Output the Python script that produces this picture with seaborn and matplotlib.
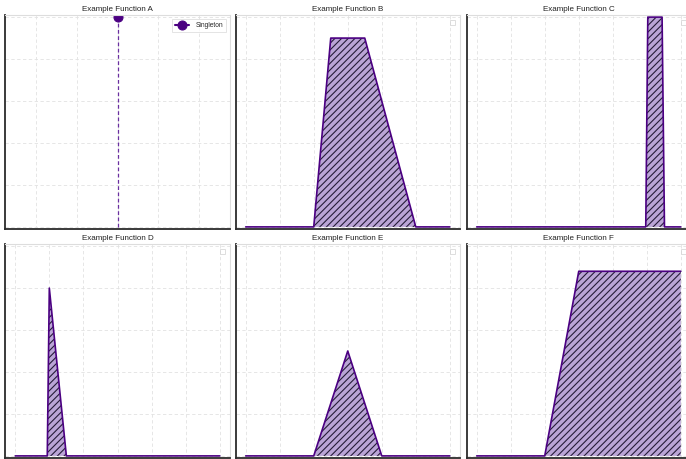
import matplotlib
matplotlib.use("Agg")
import matplotlib.pyplot as plt
import seaborn as sns
import pandas as pd

# Singleton (panel A)
singleton_x = 3.0
singleton_mu = 1.0

# Membership function breakpoints (x, membership)
func_b_x = [0.0, 2.0, 2.5, 3.5, 5.0, 6.0]
func_b_y = [0.0, 0.0, 0.9, 0.9, 0.0, 0.0]

func_c_x = [0.0, 4.97, 5.03, 5.45, 5.52, 6.0]
func_c_y = [0.0, 0.0, 1.0, 1.0, 0.0, 0.0]

func_d_x = [0.0, 0.94, 1.0, 1.5, 6.0]
func_d_y = [0.0, 0.0, 0.8, 0.0, 0.0]

func_e_x = [0.0, 2.0, 3.0, 4.0, 6.0]
func_e_y = [0.0, 0.0, 0.5, 0.0, 0.0]

func_f_x = [0.0, 2.0, 3.0, 6.0]
func_f_y = [0.0, 0.0, 0.88, 0.88]

titles = ["Example Function A", "Example Function B", "Example Function C",
          "Example Function D", "Example Function E", "Example Function F"]

x_ticks = [0, 1, 2, 3, 4, 5, 6]
singleton_ticks = [1, 2, 3, 4, 5]
y_ticks = [0.0, 0.2, 0.4, 0.6, 0.8, 1.0]

sns.set_theme(style="white")
plt.rcParams["font.family"] = ["Liberation Sans", "DejaVu Sans"]
plt.rcParams["hatch.color"] = "#1e1530"
plt.rcParams["hatch.linewidth"] = 0.8

LINE = "#4B0082"
FILL = "#b7a0d4"

W, H = 686, 459
fig = plt.figure(figsize=(W / 100, H / 100), dpi=100)

# panel boxes in pixels: left, top, width, height
boxes = [(5, 15, 225, 214), (235.5, 15, 224.5, 214), (466.5, 15, 224.5, 214),
         (5, 244, 225, 214), (235.5, 244, 224.5, 214), (466.5, 244, 224.5, 214)]
axes = []
for (l, t, w, h) in boxes:
    axes.append(fig.add_axes([l / W, 1 - (t + h) / H, w / W, h / H]))


def style(ax, title, xticks, xlim):
    ax.set_xlim(*xlim)
    ax.set_ylim(-0.01, 1.01)
    ax.set_xticks(xticks)
    ax.set_yticks(y_ticks)
    ax.set_xticklabels([])
    ax.set_yticklabels([])
    ax.tick_params(length=0)
    ax.grid(True, linestyle=(0, (4, 3)), color="#e2e2e2", linewidth=0.6)
    ax.set_axisbelow(True)
    for side in ("top", "right"):
        ax.spines[side].set_color("#dddddd")
        ax.spines[side].set_linewidth(0.8)
    for side in ("left", "bottom"):
        ax.spines[side].set_color("#2b2b2b")
        ax.spines[side].set_linewidth(1.3)
    ax.set_xlabel("")
    ax.set_ylabel("")
    ax.set_title(title, fontsize=5.8, color="#222222", pad=3)


# Panel A: singleton
axA = axes[0]
axA.plot([singleton_x, singleton_x], [0, singleton_mu], linestyle=(0, (3, 2)),
         color="#6a2fa0", linewidth=0.9)
sing_df = pd.DataFrame({"x": [singleton_x], "mu": [singleton_mu]})
sns.lineplot(data=sing_df, x="x", y="mu", ax=axA, color=LINE, marker="o",
             markersize=6.5, markeredgecolor=LINE, label="Singleton")
style(axA, titles[0], singleton_ticks, (0.25, 5.75))
leg = axA.legend(loc="upper right", fontsize=4.8, frameon=True, handlelength=2.2,
                 borderpad=0.45, handletextpad=0.9, borderaxespad=0.6)
leg.get_frame().set_edgecolor("#d8d8d8")
leg.get_frame().set_linewidth(0.6)
leg.get_frame().set_boxstyle("square", pad=0)

series = [(func_b_x, func_b_y), (func_c_x, func_c_y), (func_d_x, func_d_y),
          (func_e_x, func_e_y), (func_f_x, func_f_y)]

for ax, (xs, ys), title in zip(axes[1:], series, titles[1:]):
    df = pd.DataFrame({"x": xs, "mu": ys})
    ax.fill_between(df["x"], 0, df["mu"], facecolor=FILL, alpha=0.95,
                    hatch="/////", edgecolor="#1e1530", linewidth=0)
    sns.lineplot(data=df, x="x", y="mu", ax=ax, sort=False, color=LINE,
                 linewidth=1.2, estimator=None)
    style(ax, title, x_ticks, (-0.3, 6.3))
    lg = ax.legend(handles=[], loc="upper right", frameon=True, fontsize=4.5,
                   borderpad=0.4, borderaxespad=0.8)
    lg.get_frame().set_edgecolor("#cfcfcf")
    lg.get_frame().set_linewidth(0.6)
    lg.get_frame().set_boxstyle("square", pad=0)

fig.savefig("out.png", dpi=100)
